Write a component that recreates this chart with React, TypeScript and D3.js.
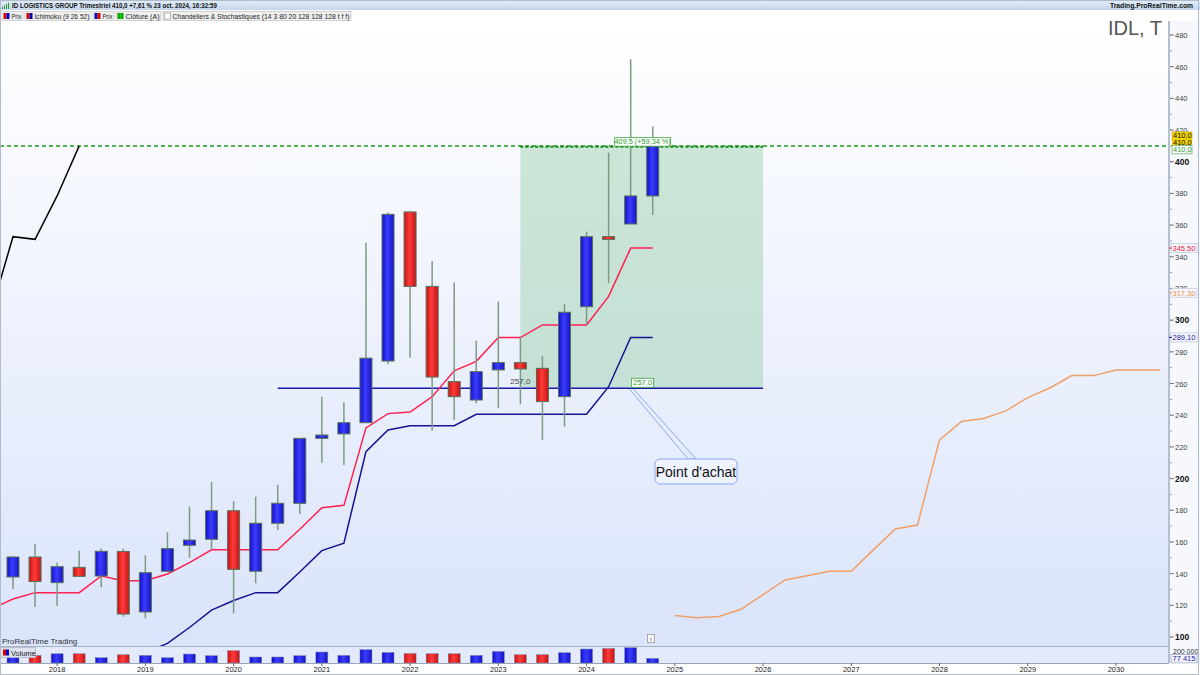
import * as d3 from "d3";

// quarterly candles, index 0 = Q3 2017
const opens = [137.9, 150.5, 134.3, 144, 138.5, 154, 115.8, 141.5, 157.9, 161.7, 179.7, 141.5, 171.8, 184.4, 225.4, 228.2, 235.3, 274.2, 368.3, 321.3, 261.2, 249.6, 268.6, 273.2, 269.6, 251.7, 308.5, 352.7, 360.7, 378.4];
const highs = [151, 158.7, 147, 154.5, 155.8, 155.8, 151.6, 166.1, 182.3, 197.8, 185.7, 188.6, 196, 225.4, 251.7, 248.2, 348.9, 368, 369, 337.4, 323.7, 287, 311.7, 289.6, 277.4, 310.2, 355.9, 405.7, 464.7, 422.2];
const lows = [130.3, 119, 119.6, 138, 131.4, 112.8, 111.8, 141, 150, 155, 115, 133.9, 167.5, 177.7, 210, 208.6, 235, 272.3, 276.3, 230.2, 237, 247.5, 244.4, 246.9, 224.4, 232.8, 297, 323.3, 360.7, 366.4];
const closes = [150.5, 135, 144.4, 138.3, 154.1, 114.5, 140.6, 155.8, 161.2, 179.7, 142.7, 171.8, 184.4, 225.4, 227.5, 235.3, 276, 366.8, 321.3, 264.1, 251.7, 267.5, 273.2, 269.2, 248.6, 305, 352.7, 351, 378.4, 410];
const volumes = [111000, 128000, 156000, 156000, 89000, 139000, 128000, 89000, 151000, 123000, 207000, 101000, 101000, 123000, 185000, 128000, 224000, 178000, 161000, 156000, 156000, 128000, 195000, 139000, 139000, 173000, 235000, 245000, 257000, 77415];

// ichimoku lines (first index of each)
const tenkanStart = -1;
const tenkan = [117.5, 124, 128, 128, 128, 138.5, 135.5, 135.5, 139.8, 147, 155, 155, 155, 155, 168, 181.6, 183.1, 232, 241, 242, 251.7, 268, 274, 289, 289, 297, 297, 297, 315, 345.5, 345.5];
const kijunStart = 5;
const kijun = [85, 90, 96, 106, 117, 123, 128, 128, 141, 154.5, 159.2, 217, 230.7, 233.4, 233.4, 233.4, 240.6, 240.6, 240.6, 240.6, 240.6, 240.6, 258, 289.1, 289.1];
const spanStart = 30;
const span = [113.5, 112.2, 113, 117.5, 126.7, 136, 138.7, 141.5, 141.5, 155, 168.2, 170.7, 224.4, 236, 237.9, 242.7, 251.1, 257.2, 265, 265, 268.6, 268.6, 268.6];
const chikouShift = 26;

const years = [2018, 2019, 2020, 2021, 2022, 2023, 2024, 2025, 2026, 2027, 2028, 2029, 2030];
const priceTicks = d3.range(100, 481, 20);
const minorTicks = d3.range(100, 481, 10);

// buy zone drawing
const buyPrice = 257;
const targetPrice = 409.5;
const lastPrice = 410;
const zoneStart = 23;
const zoneEnd = 34;
const lineStart = 12;

const legendItems = [
  { label: "Prix", w: 21, icon: ["#d00", "#00c"] },
  { label: "Ichimoku (9 26 52)", w: 66, icon: ["#d00", "#00a"] },
  { label: "Prix", w: 21, icon: ["#00c", "#d00"] },
  { label: "Clôture (A)", w: 45, icon: ["#0a0", "#0a0"] },
  { label: "Chandeliers & Stochastiques (14 3 80 20 128 128 128 t f f)", w: 188, icon: null },
];

const font = "'Liberation Sans', Arial, sans-serif";
const axisX = 1169;

export default function App() {
  const x = d3.scaleLinear([0, 52], [13, 13 + 22.06 * 52]);
  const y = d3.scaleLinear([100, 480], [637, 35]);
  const yVol = d3.scaleLinear([0, 200000], [663, 651.1]);
  const line = d3.line<[number, number]>().x((d) => x(d[0])).y((d) => y(d[1]));
  const pts = (vals: number[], start: number) => vals.map((v, i) => [start + i, v] as [number, number]);
  const chikou = closes.map((c, i) => [i - chikouShift, c] as [number, number]);
  const fmt = (v: number, d = 1) => v.toFixed(d).replace(".", ",");

  let lx = 2;
  const legend = legendItems.map((it) => {
    const g = { ...it, x: lx };
    lx += it.w + 2;
    return g;
  });

  return (
    <svg width={1200} height={675} style={{ position: "absolute", left: 0, top: 0 }} fontFamily={font}>
      <defs>
        <linearGradient id="bg" x1="0" y1="0" x2="0" y2="1">
          <stop offset="0" stopColor="#ffffff" />
          <stop offset="1" stopColor="#d9e3fa" />
        </linearGradient>
        <linearGradient id="hdr" x1="0" y1="0" x2="0" y2="1">
          <stop offset="0" stopColor="#e4eef9" />
          <stop offset="1" stopColor="#c4d6ec" />
        </linearGradient>
        <linearGradient id="blue" x1="0" y1="0" x2="1" y2="0">
          <stop offset="0" stopColor="#1010c8" />
          <stop offset="0.45" stopColor="#3c3cff" />
          <stop offset="1" stopColor="#1414c0" />
        </linearGradient>
        <linearGradient id="red" x1="0" y1="0" x2="1" y2="0">
          <stop offset="0" stopColor="#c81010" />
          <stop offset="0.45" stopColor="#ff3c3c" />
          <stop offset="1" stopColor="#c41414" />
        </linearGradient>
        <clipPath id="plot">
          <rect x={0} y={21} width={axisX} height={625} />
        </clipPath>
      </defs>

      <rect width={1200} height={675} fill="#ffffff" />
      <rect x={0} y={21} width={axisX} height={642} fill="url(#bg)" />
      <rect x={axisX} y={21} width={31} height={642} fill="#f6f8fd" />

      {/* header */}
      <rect x={0} y={0} width={1200} height={10} fill="url(#hdr)" />
      <g>
        {[0, 1, 2, 3].map((i) => (
          <rect key={i} x={2 + i * 2} y={7 - i * 1.5} width={1} height={2 + i * 1.5} fill="#2a9a2a" />
        ))}
      </g>
      <text x={12} y={8} fontSize={7.5} fontWeight="bold" fill="#111" textLength={205} lengthAdjust="spacingAndGlyphs">
        ID LOGISTICS GROUP Trimestriel 410,0 +7,61 % 23 oct. 2024, 16:32:59
      </text>
      <text x={1110} y={8} fontSize={7.5} fontWeight="bold" fill="#111" textLength={83} lengthAdjust="spacingAndGlyphs">
        Trading.ProRealTime.com
      </text>
      <rect x={0} y={10} width={1200} height={11} fill="#ffffff" />
      {legend.map((it, i) => (
        <g key={i}>
          <rect x={it.x} y={11.5} width={it.w} height={9} fill="#f0f0f0" stroke="#c8c8c8" strokeWidth={0.8} />
          {it.icon ? (
            <>
              <rect x={it.x + 1.5} y={13} width={3} height={6} fill={it.icon[0]} />
              <rect x={it.x + 4.5} y={13} width={3} height={6} fill={it.icon[1]} />
            </>
          ) : (
            <rect x={it.x + 1.5} y={13} width={6} height={6} fill="#fff" stroke="#999" strokeWidth={0.7} />
          )}
          <text x={it.x + 9.5} y={18.8} fontSize={7.4} fill="#222" textLength={it.w - 11} lengthAdjust="spacingAndGlyphs">
            {it.label}
          </text>
        </g>
      ))}

      <text x={1162} y={35} fontSize={20} fill="#555" textAnchor="end">
        IDL, T
      </text>

      <g clipPath="url(#plot)">
        {/* buy zone */}
        <rect x={x(zoneStart)} y={y(targetPrice)} width={x(zoneEnd) - x(zoneStart)} height={y(buyPrice) - y(targetPrice)} fill="#9fd2b0" fillOpacity={0.5} />
        <line x1={0} x2={axisX} y1={y(lastPrice)} y2={y(lastPrice)} stroke="#1a9a1a" strokeWidth={1.5} strokeDasharray="4 3" />
        <line x1={x(zoneStart)} x2={x(zoneEnd)} y1={y(targetPrice)} y2={y(targetPrice)} stroke="#1a8a1a" strokeWidth={2} strokeDasharray="3 2" />
        <line x1={x(lineStart)} x2={x(zoneEnd)} y1={y(buyPrice)} y2={y(buyPrice)} stroke="#1a1ab0" strokeWidth={1.5} />

        {/* ichimoku */}
        <path d={line(pts(span, spanStart)) as string} fill="none" stroke="#f0a068" strokeWidth={1.5} />
        <path d={line(pts(kijun, kijunStart)) as string} fill="none" stroke="#141490" strokeWidth={1.5} />
        <path d={line(pts(tenkan, tenkanStart)) as string} fill="none" stroke="#ff2050" strokeWidth={1.5} />
        <path d={line(chikou) as string} fill="none" stroke="#000" strokeWidth={1.5} />

        {/* candles */}
        {closes.map((c, i) => {
          const o = opens[i];
          const up = c >= o;
          const top = y(Math.max(o, c));
          const h = Math.max(2, Math.abs(y(o) - y(c)));
          return (
            <g key={i}>
              <line x1={x(i)} x2={x(i)} y1={y(highs[i])} y2={y(lows[i])} stroke="#7e9a82" strokeWidth={1.5} />
              <rect x={x(i) - 6} y={top} width={12} height={h} fill={up ? "url(#blue)" : "url(#red)"} stroke="#56705a" strokeWidth={1} />
            </g>
          );
        })}

        {/* annotations */}
        <text x={x(23)} y={y(buyPrice) - 4} fontSize={8} fill="#444" textAnchor="middle">
          {fmt(buyPrice)}
        </text>
        <rect x={x(28) + 1} y={y(buyPrice) - 10} width={22} height={9} fill="#fff" stroke="#3aa03a" strokeWidth={0.8} />
        <text x={x(28) + 12} y={y(buyPrice) - 3} fontSize={7.5} fill="#2a9a2a" textAnchor="middle">
          {fmt(buyPrice)}
        </text>
        <rect x={x(27) + 6} y={y(targetPrice) - 9} width={56} height={8.5} fill="#fff" stroke="#3aa03a" strokeWidth={0.8} />
        <text x={x(27) + 34} y={y(targetPrice) - 2.5} fontSize={7.3} fill="#2a9a2a" textAnchor="middle">
          409,5 (+59,34 %)
        </text>
      </g>

      {/* callout */}
      <polyline points={`${x(28) - 1},${y(buyPrice) + 1} 688,459 696,459 ${x(28) + 3},${y(buyPrice) + 1}`} fill="none" stroke="#8aaaf0" strokeWidth={1} />
      <rect x={655} y={459} width={82} height={25} rx={5} fill="#eef3ff" stroke="#8aaaf0" strokeWidth={1} />
      <text x={696} y={476.5} fontSize={14} fill="#111" textAnchor="middle">
        Point d'achat
      </text>

      {/* info icon */}
      <rect x={647.5} y={634.5} width={7} height={8} fill="#f4f4f4" stroke="#999" strokeWidth={0.8} />
      <text x={651} y={641} fontSize={6} fill="#555" textAnchor="middle">i</text>

      <text x={2} y={644} fontSize={8} fill="#333">ProRealTime Trading</text>
      <line x1={0} x2={axisX} y1={646.5} y2={646.5} stroke="#a8b4c4" strokeWidth={1} />

      {/* volume */}
      <rect x={0} y={647} width={axisX} height={16} fill="#e3eafb" />
      {volumes.map((v, i) => {
        const up = closes[i] >= opens[i];
        return (
          <rect key={i} x={x(i) - 6} y={yVol(v)} width={12} height={yVol(0) - yVol(v)} fill={up ? "url(#blue)" : "url(#red)"} stroke="#7a8ab0" strokeWidth={0.5} />
        );
      })}
      <rect x={0.5} y={647.5} width={35} height={10} fill="#dde3ee" stroke="#b0b8c8" strokeWidth={0.8} />
      <rect x={3} y={649.5} width={3} height={6} fill="#d00" />
      <rect x={6} y={649.5} width={3} height={6} fill="#00c" />
      <text x={11} y={656} fontSize={7.5} fill="#222">Volume</text>

      {/* x axis */}
      <rect x={0} y={663} width={1200} height={12} fill="#ffffff" />
      <line x1={0} x2={axisX} y1={663.5} y2={663.5} stroke="#9aa6b6" strokeWidth={1} />
      {years.map((yr) => {
        const xi = x(2 + 4 * (yr - 2018));
        return (
          <g key={yr}>
            <line x1={xi} x2={xi} y1={663} y2={666} stroke="#666" />
            <text x={xi} y={672} fontSize={7.5} fill="#222" textAnchor="middle">
              {yr}
            </text>
          </g>
        );
      })}

      {/* y axis */}
      <line x1={axisX} x2={axisX} y1={21} y2={663} stroke="#b4c0d0" strokeWidth={2} />
      {minorTicks.map((t) => (
        <line key={"m" + t} x1={axisX + 1} x2={axisX + 3} y1={y(t)} y2={y(t)} stroke="#888" strokeWidth={0.8} />
      ))}
      {priceTicks.map((t) => (
        <g key={t}>
          <line x1={axisX + 1} x2={axisX + 5} y1={y(t)} y2={y(t)} stroke="#666" strokeWidth={0.8} />
          <text x={axisX + 6} y={y(t) + 3} fontSize={t % 100 === 0 ? 8.5 : 7.5} fontWeight={t % 100 === 0 ? "bold" : "normal"} fill={t % 100 === 0 ? "#111" : "#444"}>
            {t}
          </text>
        </g>
      ))}

      {/* value labels */}
      <rect x={axisX + 3} y={y(lastPrice) - 14} width={20} height={8.5} fill="#f2d200" stroke="#b8a000" strokeWidth={0.5} />
      <text x={axisX + 4} y={y(lastPrice) - 7.5} fontSize={7.5} fill="#111">{fmt(lastPrice)}</text>
      <rect x={axisX + 3} y={y(lastPrice) - 5.5} width={20} height={4.5} fill="#f2d200" />
      <text x={axisX + 4} y={y(lastPrice) - 0.5} fontSize={7.5} fill="#111">{fmt(lastPrice)}</text>
      <rect x={axisX + 3} y={y(lastPrice) - 0.5} width={20} height={8.5} fill="#fff" stroke="#3aa03a" strokeWidth={0.6} />
      <text x={axisX + 4} y={y(lastPrice) + 6.5} fontSize={7.5} fill="#2a9a2a">{fmt(lastPrice)}</text>

      {[
        { v: tenkan[tenkan.length - 1], c: "#e8204a", d: 2 },
        { v: 317.3, c: "#f09050", d: 2 },
        { v: kijun[kijun.length - 1], c: "#2020b0", d: 2 },
      ].map((l, i) => (
        <g key={i}>
          <rect x={axisX + 2} y={y(l.v) - 4.5} width={26} height={9} fill="#f4f6fb" stroke="#b8c0d0" strokeWidth={0.6} />
          <line x1={axisX} x2={axisX + 3} y1={y(l.v)} y2={y(l.v)} stroke={l.c} />
          <text x={axisX + 3.5} y={y(l.v) + 3} fontSize={7.5} fill={l.c}>{fmt(l.v, l.d)}</text>
        </g>
      ))}

      <text x={axisX + 4} y={654} fontSize={7} fill="#333">200 000</text>
      <rect x={axisX + 2} y={yVol(volumes[29]) - 4} width={26} height={8.5} fill="#f4f6fb" stroke="#8090c0" strokeWidth={0.6} />
      <text x={axisX + 3.5} y={yVol(volumes[29]) + 3} fontSize={7.5} fill="#2020b0">77 415</text>

      <rect x={0.5} y={0.5} width={1198} height={674} fill="none" stroke="#b0bccc" strokeWidth={1} />
    </svg>
  );
}
